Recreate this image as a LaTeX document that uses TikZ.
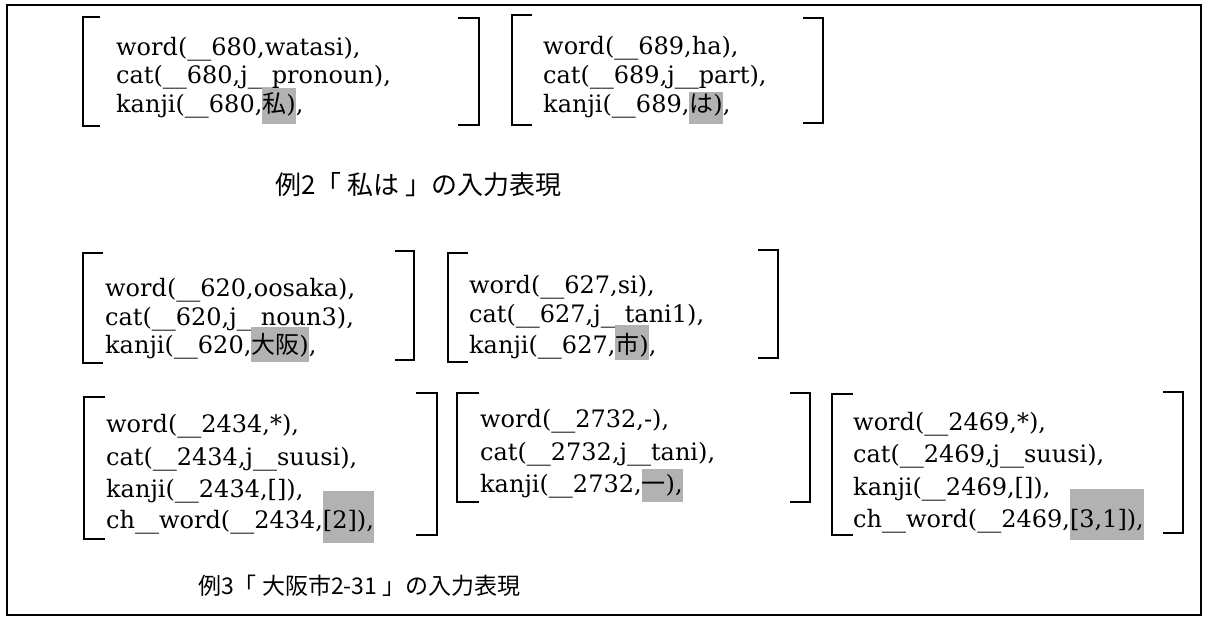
\documentclass[tikz,border=0pt]{standalone}
\usepackage{fontspec}
\setmainfont{DejaVu Serif}
\newfontfamily\cjk{Noto Sans CJK JP}
\definecolor{hlgray}{gray}{0.70}
% #1 total height, #2 depth, #3 content
\newcommand\hlbox[3]{{\setlength{\fboxsep}{0pt}\colorbox{hlgray}{\rule[-#2pt]{0pt}{#1pt}#3}}}
\tikzset{
  brk/.style={line width=1.5pt},
  frameline/.style={line width=1.5pt},
  ln/.style={anchor=base west, inner sep=0pt, font=\fontsize{24}{28}\selectfont},
  capt/.style={anchor=west, inner sep=0pt}
}
\begin{document}
\begin{tikzpicture}[x=1pt,y=-1pt]
\useasboundingbox (0,0) rectangle (1205,616);
\draw[frameline] (7,5) rectangle (1201,615);

% ---- Block A (680)
\draw[brk] (100,17) -- (83,17) -- (83,126) -- (100,126);
\draw[brk] (458,18) -- (479,18) -- (479,125) -- (458,125);
\node[ln] (a1) at (116,55) {word(\_\_680,watasi),};
\node[ln] (a2) at (116,83) {cat(\_\_680,j\_\_pronoun),};
\node[ln] (a3) at (116,112) {kanji(\_\_680,\hlbox{36}{12}{{\cjk 私})}, };

% ---- Block B (689)
\draw[brk] (532,15) -- (512,15) -- (512,125) -- (532,125);
\draw[brk] (803,18) -- (823,18) -- (823,123) -- (803,123);
\node[ln] (b1) at (543,54) {word(\_\_689,ha),};
\node[ln] (b2) at (543,83) {cat(\_\_689,j\_\_part),};
\node[ln] (b3) at (543,112) {kanji(\_\_689,\hlbox{32}{12}{{\cjk は})},};

\node[capt] (c1) at (275,185) {\fontsize{26}{31}\selectfont\cjk 例2「 私は 」の入力表現};

% ---- Block C (620)
\draw[brk] (103,253) -- (83,253) -- (83,363) -- (103,363);
\draw[brk] (395,251) -- (414,251) -- (414,360) -- (395,360);
\node[ln] (cc1) at (105,296) {word(\_\_620,oosaka),};
\node[ln] (cc2) at (105,325) {cat(\_\_620,j\_\_noun3),};
\node[ln] (cc3) at (105,353) {kanji(\_\_620,\hlbox{35}{9}{{\cjk 大阪})},};

% ---- Block D (627)
\draw[brk] (468,253) -- (448,253) -- (448,362) -- (468,362);
\draw[brk] (758,250) -- (778,250) -- (778,358) -- (758,358);
\node[ln] (d1) at (469,293) {word(\_\_627,si),};
\node[ln] (d2) at (469,322) {cat(\_\_627,j\_\_tani1),};
\node[ln] (d3) at (469,353) {kanji(\_\_627,\hlbox{35}{7}{{\cjk 市})},};

% ---- Block E (2434)
\draw[brk] (105,397) -- (84,397) -- (84,539) -- (105,539);
\draw[brk] (416,393) -- (437,393) -- (437,535) -- (416,535);
\node[ln] (e1) at (106,432) {word(\_\_2434,*),};
\node[ln] (e2) at (106,465) {cat(\_\_2434,j\_\_suusi),};
\node[ln] (e3) at (106,497) {kanji(\_\_2434,[]),};
\node[ln] (e4) at (106,528) {ch\_\_word(\_\_2434,\hlbox{52}{15}{[2]),}};

% ---- Block F (2732)
\draw[brk] (479,393) -- (457,393) -- (457,502) -- (479,502);
\draw[brk] (790,393) -- (810,393) -- (810,502) -- (790,502);
\node[ln] (f1) at (480,427) {word(\_\_2732,-),};
\node[ln] (f2) at (480,460) {cat(\_\_2732,j\_\_tani),};
\node[ln] (f3) at (480,492) {kanji(\_\_2732,\hlbox{33}{10}{{\cjk 一}),}};

% ---- Block G (2469)
\draw[brk] (853,394) -- (832,394) -- (832,535) -- (853,535);
\draw[brk] (1163,392) -- (1183,392) -- (1183,533) -- (1163,533);
\node[ln] (g1) at (853,430) {word(\_\_2469,*),};
\node[ln] (g2) at (853,462) {cat(\_\_2469,j\_\_suusi),};
\node[ln] (g3) at (853,495) {kanji(\_\_2469,[]),};
\node[ln] (g4) at (853,527) {ch\_\_word(\_\_2469,\hlbox{51}{13}{[3,1]),}};

\node[capt] (c2) at (198,586) {\fontsize{23}{28}\selectfont\cjk 例3「 大阪市2-31 」の入力表現};
\end{tikzpicture}
\end{document}
